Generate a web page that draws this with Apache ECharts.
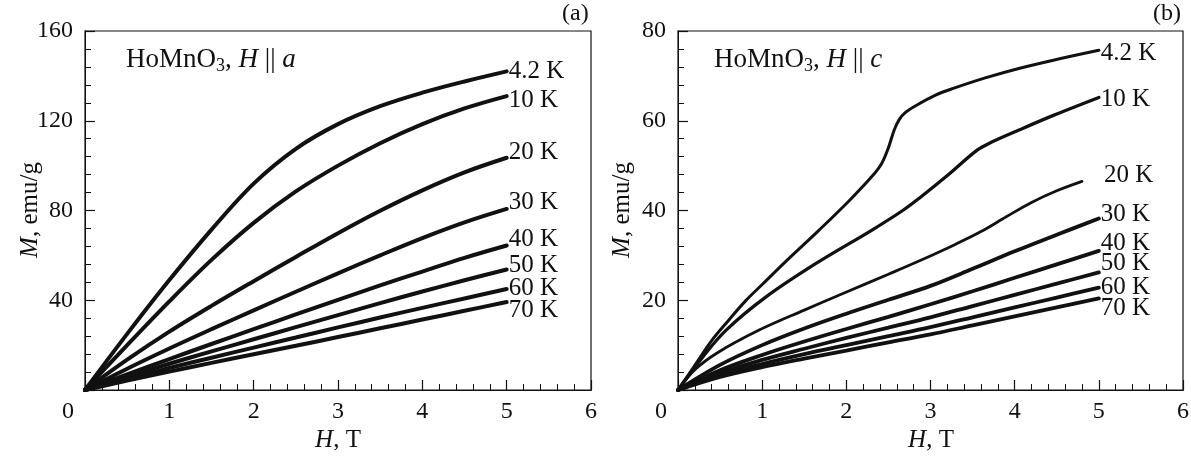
<!DOCTYPE html>
<html>
<head>
<meta charset="utf-8">
<script src="https://cdn.jsdelivr.net/npm/echarts@6/dist/echarts.min.js"></script>
<style>
  html, body { margin: 0; padding: 0; background: #fff; }
  #wrap { position: relative; width: 1191px; height: 457px; }
  #chart, .ticks { position: absolute; left: 0; top: 0; width: 1191px; height: 457px; }
  .ticks { pointer-events: none; }
</style>
</head>
<body>
<div id="wrap">
  <div id="chart"></div>
  <div id="ticksA" class="ticks"></div>
  <div id="ticksB" class="ticks"></div>
</div>
<script>
// temperatures of the curves
const tempLabels = ['4.2 K', '10 K', '20 K', '30 K', '40 K', '50 K', '60 K', '70 K']

// panel (a): H || a, field in T, magnetization in emu/g
const fieldA = [0, 0.5, 1, 1.5, 2, 2.5, 3, 3.5, 4, 4.5, 5]
const magA_4K = [0, 25, 49, 71.5, 92, 107.5, 118.5, 126.5, 132.5, 137.5, 142]
const magA_10K = [0, 20, 39.5, 58, 74.5, 88.5, 100, 110, 118.5, 125.5, 131]
const magA_20K = [0, 13.5, 26, 37.5, 48.5, 59.3, 69.9, 79.9, 89, 97, 103.5]
const magA_30K = [0, 9.5, 18.5, 27.1, 35.5, 43.8, 52, 60, 67.7, 74.7, 80.7]
const magA_40K = [0, 7, 13.8, 20.5, 27.1, 33.7, 40.2, 46.6, 52.8, 58.9, 64.4]
const magA_50K = [0, 6, 11.7, 17.2, 22.6, 28, 33.4, 38.7, 43.9, 48.9, 53.7]
const magA_60K = [0, 5, 9.8, 14.4, 18.9, 23.4, 27.9, 32.3, 36.6, 40.8, 45]
const magA_70K = [0, 4.2, 8.2, 12.1, 15.9, 19.7, 23.6, 27.5, 31.4, 35.3, 39.2]

// panel (b): H || c
const magB_4K = [[0, 0], [0.2, 5.5], [0.4, 11], [0.6, 15.5], [0.8, 19.8], [1.0, 23.5], [1.3, 29],
  [1.68, 35.7], [2.04, 42.3], [2.3, 47.5], [2.42, 50.5], [2.5, 54], [2.57, 58], [2.63, 60.3],
  [2.7, 61.8], [2.83, 63.4], [3.06, 65.7], [3.27, 67.2], [3.66, 69.6], [4.06, 71.7], [4.46, 73.5], [5, 75.7]]
const magB_10K = [[0, 0], [0.3, 7.5], [0.575, 13.4], [1.05, 20.8], [1.64, 28.2], [2.31, 35.7],
  [2.67, 40], [2.87, 42.8], [3.2, 47.8], [3.55, 53.4], [3.7, 55], [4.06, 58], [4.46, 61.2], [5, 65.2]]
const magB_20K = [[0, 0], [0.2, 4.5], [0.46, 8.2], [0.97, 13.4], [1.5, 17.8], [1.96, 21.5], [2.5, 25.8],
  [2.87, 28.8], [3.3, 32.5], [3.6, 35.3], [3.9, 38.6], [4.2, 41.8], [4.5, 44.4], [4.8, 46.5]]
const fieldB = [0, 0.5, 1, 1.5, 2, 2.5, 3, 3.5, 4, 4.5, 5]
const magB_30K = [0, 5.6, 10, 13.7, 17, 20.1, 23.2, 27, 30.9, 34.6, 38.2]
const magB_40K = [0, 4.4, 7.8, 10.8, 13.6, 16.3, 19.1, 22, 25, 28, 31]
const magB_50K = [0, 3.8, 6.7, 9.2, 11.6, 13.9, 16.2, 18.7, 21.2, 23.7, 26.2]
const magB_60K = [0, 3.3, 5.8, 8, 10, 12, 14, 16.2, 18.4, 20.6, 22.8]
const magB_70K = [0, 2.9, 5.1, 7, 8.8, 10.6, 12.4, 14.4, 16.4, 18.4, 20.4]

const FONT = "'Liberation Serif', 'Times New Roman', serif"
const INK = '#111'

const pairs = (xs, ys) => xs.map((x, i) => [x, ys[i]])

const curvesA = [magA_4K, magA_10K, magA_20K, magA_30K, magA_40K, magA_50K, magA_60K, magA_70K]
  .map(m => pairs(fieldA, m))
const curvesB = [magB_4K, magB_10K, magB_20K,
  pairs(fieldB, magB_30K), pairs(fieldB, magB_40K), pairs(fieldB, magB_50K),
  pairs(fieldB, magB_60K), pairs(fieldB, magB_70K)]

// label nudges so the end labels don't collide
const labelShiftA = [[0, 0], [0, 4], [0, -5], [0, -6], [0, -6], [0, -4], [0, -1], [0, 8]]
const labelShiftB = [[0, 3], [0, 2], [20, -6], [0, -4], [0, -7], [0, -9], [0, 0], [0, 10]]
const widthB = [3, 3.3, 2.8, 3.8, 3.8, 3.8, 3.8, 3.8]

const panels = [
  { left: 85, width: 506, yMax: 160, yStep: 40 },
  { left: 678, width: 505, yMax: 80, yStep: 20 }
]

function makeSeries(curves, idx, shifts, widths) {
  return curves.map((data, i) => ({
    name: tempLabels[i],
    type: 'line',
    xAxisIndex: idx,
    yAxisIndex: idx,
    data,
    smooth: 0.35,
    showSymbol: false,
    silent: true,
    lineStyle: { color: INK, width: widths ? widths[i] : 4, cap: 'round' },
    endLabel: {
      show: true,
      formatter: '{a}',
      distance: 2,
      offset: shifts[i],
      color: INK,
      fontFamily: FONT,
      fontSize: 25
    }
  }))
}

function xAxisCfg(idx) {
  return {
    type: 'value',
    gridIndex: idx,
    min: 0,
    max: 6,
    interval: 1,
    axisLine: { show: true, onZero: false, lineStyle: { color: INK } },
    axisTick: { show: false },
    splitLine: { show: false },
    axisLabel: {
      color: INK, fontFamily: FONT, fontSize: 24, margin: 10,
      formatter: v => (v === 0 ? '{z|0}' : String(v)),
      rich: { z: { padding: [0, 34, 0, 0], fontFamily: FONT, fontSize: 24, color: INK } }
    }
  }
}

function yAxisCfg(idx) {
  return {
    type: 'value',
    gridIndex: idx,
    min: 0,
    max: panels[idx].yMax,
    interval: panels[idx].yStep,
    axisLine: { show: true, onZero: false, lineStyle: { color: INK } },
    axisTick: { show: false },
    splitLine: { show: false },
    axisLabel: {
      color: INK, fontFamily: FONT, fontSize: 24, margin: 12,
      showMinLabel: false
    }
  }
}

// axis titles as text with an italic symbol
function axisTitle(letter, rest, x, y, vertical) {
  return {
    type: 'text',
    x, y,
    rotation: vertical ? Math.PI / 2 : 0,
    silent: true,
    style: {
      text: '{i|' + letter + '}' + rest,
      fontFamily: FONT, fontSize: 25, fill: INK,
      align: 'center', verticalAlign: 'middle',
      rich: { i: { fontStyle: 'italic', fontFamily: FONT, fontSize: 25, fill: INK } }
    }
  }
}

function titleCfg(axisLetter, left) {
  const base = { fontFamily: FONT, fontSize: 27, fontWeight: 'normal', color: INK }
  return {
    text: '{r|HoMnO}{s|3}{r|, }{i|H}{r| || }{i|' + axisLetter + '}',
    left,
    top: 45,
    padding: 0,
    textStyle: {
      fontWeight: 'normal',
      rich: {
        r: base,
        i: Object.assign({}, base, { fontStyle: 'italic' }),
        s: { fontFamily: FONT, fontSize: 18, fontWeight: 'normal', color: INK, padding: [12, 0, 0, 0] }
      }
    }
  }
}

const chart = echarts.init(document.getElementById('chart'), null, { renderer: 'canvas' })
chart.setOption({
  animation: false,
  backgroundColor: '#fff',
  title: [titleCfg('a', 126), titleCfg('c', 714)],
  grid: panels.map(p => ({
    left: p.left, top: 31, width: p.width, height: 359,
    show: true, borderColor: INK, borderWidth: 1.2, outerBoundsMode: 'none'
  })),
  xAxis: [xAxisCfg(0), xAxisCfg(1)],
  yAxis: [yAxisCfg(0), yAxisCfg(1)],
  graphic: [
    { type: 'text', left: 562, top: 2, style: { text: '(a)', font: '24px ' + FONT, fill: INK } },
    { type: 'text', left: 1153, top: 2, style: { text: '(b)', font: '24px ' + FONT, fill: INK } },
    axisTitle('H', ', T', 338, 440, false),
    axisTitle('H', ', T', 931, 440, false),
    axisTitle('M', ', emu/g', 30, 210, true),
    axisTitle('M', ', emu/g', 622, 210, true)
  ],
  series: makeSeries(curvesA, 0, labelShiftA).concat(makeSeries(curvesB, 1, labelShiftB, widthB))
})

// inward major + minor ticks, drawn by a plain single-grid layer per panel
function tickLayer(el, p) {
  const layer = echarts.init(el, null, { renderer: 'canvas' })
  const tickAxis = (max, step) => ({
    type: 'value',
    min: 0,
    max,
    interval: step,
    axisLine: { show: true, lineStyle: { color: INK } },
    axisTick: { show: true, inside: true, length: 10, lineStyle: { color: INK, width: 1.2 } },
    minorTick: { show: true, splitNumber: 5, length: 6, lineStyle: { color: INK, width: 1 } },
    splitLine: { show: false },
    axisLabel: { color: 'rgba(0,0,0,0)' }
  })
  layer.setOption({
    animation: false,
    grid: [{ left: p.left, top: 31, width: p.width, height: 359, show: false }],
    xAxis: [tickAxis(6, 1)],
    yAxis: [tickAxis(p.yMax, p.yStep)],
    series: [{ type: 'line', data: [], silent: true }]
  })
}
tickLayer(document.getElementById('ticksA'), panels[0])
tickLayer(document.getElementById('ticksB'), panels[1])
</script>
</body>
</html>
